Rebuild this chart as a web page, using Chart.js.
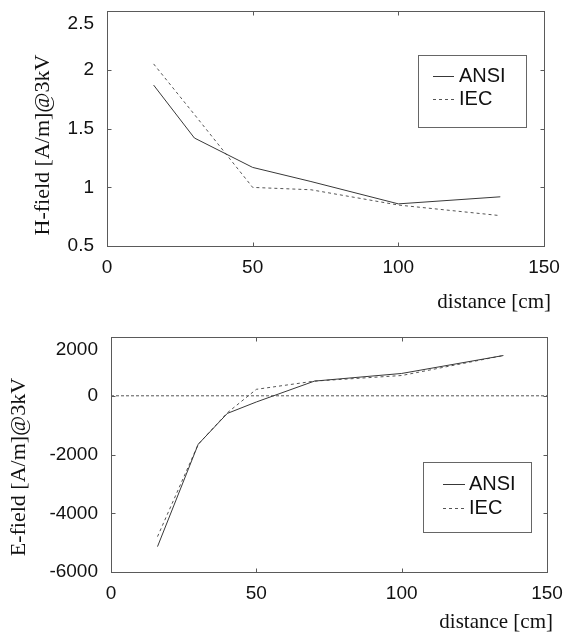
<!DOCTYPE html>
<html>
<head>
<meta charset="utf-8">
<script src="https://cdn.jsdelivr.net/npm/chart.js@4.4.0/dist/chart.umd.min.js"></script>
<style>
  html, body { margin: 0; padding: 0; background: #fff; }
  #wrap_1 { position: absolute; left: 0; top: 0; width: 564px; height: 320px; }
  #wrap_2 { position: absolute; left: 0; top: 320px; width: 564px; height: 312px; }
</style>
</head>
<body>
<div id="wrap_1"><canvas id="chart_1"></canvas></div>
<div id="wrap_2"><canvas id="chart_2"></canvas></div>
<script>
//Data
const distH = [16, 30, 50, 70, 100, 135];
const ansiH = [1.87, 1.42, 1.17, 1.05, 0.86, 0.92];
const iecH = [2.05, 1.62, 1.0, 0.98, 0.85, 0.76];

const distE = [16, 30, 40, 50, 70, 100, 135];
const ansiE = [-5130, -1650, -600, -210, 500, 760, 1370];
const iecE = [-4790, -1650, -580, 220, 500, 690, 1370];

const zeroX = [0, 150];
const zeroY = [0, 0];

const seriesNames = ["ANSI", "IEC"];
const xTitle = "distance [cm]";
const yTitleH = "H-field [A/m]@3kV";
const yTitleE = "E-field [A/m]@3kV";

const SANS = '"Liberation Sans", Arial, sans-serif';
const SERIF = '"Liberation Serif", "Times New Roman", serif';

Chart.defaults.font.family = SANS;
Chart.defaults.color = "#111";

const toPoints = (xs, ys) => xs.map((x, i) => ({ x: x, y: ys[i] }));

//Frame, inward ticks, y labels, titles and boxed legend
const framePlugin = {
  id: "frame",
  afterDatasetsDraw(chart, args, opts) {
    const ctx = chart.ctx;
    const a = chart.chartArea;
    const xs = chart.scales.x;
    const ys = chart.scales.y;
    const L = Math.round(a.left) + 0.5;
    const R = Math.round(a.right) + 0.5;
    const T = Math.round(a.top) + 0.5;
    const B = Math.round(a.bottom) + 0.5;

    ctx.save();
    ctx.strokeStyle = "#5a5a5a";
    ctx.lineWidth = 1;
    ctx.setLineDash([]);
    ctx.strokeRect(L, T, R - L, B - T);

    ctx.beginPath();
    xs.ticks.forEach((t) => {
      const px = Math.round(xs.getPixelForValue(t.value)) + 0.5;
      ctx.moveTo(px, T); ctx.lineTo(px, T + 4);
      ctx.moveTo(px, B); ctx.lineTo(px, B - 4);
    });
    ys.ticks.forEach((t) => {
      const py = Math.round(ys.getPixelForValue(t.value)) + 0.5;
      ctx.moveTo(L, py); ctx.lineTo(L + 4, py);
      ctx.moveTo(R, py); ctx.lineTo(R - 4, py);
    });
    ctx.stroke();

    // y tick labels (top one kept inside like the original)
    ctx.fillStyle = "#111";
    ctx.font = "19px " + SANS;
    ctx.textAlign = "right";
    ctx.textBaseline = "middle";
    ys.ticks.forEach((t) => {
      const py = Math.max(ys.getPixelForValue(t.value), a.top + 13);
      ctx.fillText(String(t.value), a.left - 13, py);
    });

    // y title
    ctx.save();
    ctx.translate(opts.yTitleX, opts.yTitleY);
    ctx.rotate(-Math.PI / 2);
    ctx.font = "22px " + SERIF;
    ctx.textAlign = "center";
    ctx.fillText(opts.yTitle, 0, 0);
    ctx.restore();

    // x title
    ctx.font = "21px " + SERIF;
    ctx.textAlign = "right";
    ctx.fillText(xTitle, opts.xTitleRight, opts.xTitleY);

    // legend
    const lg = opts.legend;
    ctx.fillStyle = "#fff";
    ctx.fillRect(lg.x, lg.y, lg.w, lg.h);
    ctx.strokeStyle = "#666";
    ctx.strokeRect(lg.x + 0.5, lg.y + 0.5, lg.w, lg.h);
    ctx.font = "20px " + SANS;
    ctx.textAlign = "left";
    chart.data.datasets.forEach((ds) => {
      const row = seriesNames.indexOf(ds.label);
      if (row < 0) return;
      const y = lg.y + lg.rows[row];
      ctx.strokeStyle = ds.borderColor;
      ctx.lineWidth = 1;
      ctx.setLineDash(ds.borderDash || []);
      ctx.beginPath();
      ctx.moveTo(lg.x + lg.line[0], Math.round(y) + 0.5);
      ctx.lineTo(lg.x + lg.line[1], Math.round(y) + 0.5);
      ctx.stroke();
      ctx.setLineDash([]);
      ctx.fillStyle = "#111";
      ctx.fillText(ds.label, lg.x + lg.text, y);
    });
    ctx.restore();
  },
};

const makeConfig = (datasets, yMin, yMax, yStep, pad, frame) => ({
  type: "line",
  data: { datasets: datasets },
  options: {
    animation: false,
    responsive: true,
    maintainAspectRatio: false,
    devicePixelRatio: 1,
    layout: { padding: pad },
    elements: {
      point: { radius: 0 },
      line: { tension: 0, borderWidth: 1 },
    },
    scales: {
      x: {
        type: "linear",
        min: 0,
        max: 150,
        grid: { display: false, drawTicks: false },
        border: { display: false },
        ticks: { stepSize: 50, autoSkip: false, padding: 10, font: { size: 19 }, color: "#111" },
        afterFit: (scale) => {
          scale.paddingLeft = 0;
          scale.paddingRight = 0;
        },
      },
      y: {
        type: "linear",
        min: yMin,
        max: yMax,
        grid: { display: false, drawTicks: false },
        border: { display: false },
        ticks: { stepSize: yStep, display: false },
      },
    },
    plugins: {
      legend: { display: false },
      tooltip: { enabled: false },
      frame: frame,
    },
  },
  plugins: [framePlugin],
});

const config_1 = makeConfig(
  [
    { label: "ANSI", data: toPoints(distH, ansiH), borderColor: "#383838" },
    { label: "IEC", data: toPoints(distH, iecH), borderColor: "#555", borderDash: [3, 3] },
  ],
  0.5, 2.5, 0.5,
  { left: 107, right: 20, top: 11, bottom: 31 },
  {
    yTitle: yTitleH, yTitleX: 43, yTitleY: 145,
    xTitleRight: 551, xTitleY: 302,
    legend: { x: 418, y: 55, w: 108, h: 72, rows: [21, 44], line: [15, 36], text: 41 },
  }
);

const config_2 = makeConfig(
  [
    { label: "ANSI", data: toPoints(distE, ansiE), borderColor: "#383838" },
    { label: "IEC", data: toPoints(distE, iecE), borderColor: "#555", borderDash: [3, 3] },
    { label: "zero", data: toPoints(zeroX, zeroY), borderColor: "#555", borderDash: [3, 2] },
  ],
  -6000, 2000, 2000,
  { left: 111, right: 17, top: 17, bottom: 17 },
  {
    yTitle: yTitleE, yTitleX: 19, yTitleY: 147,
    xTitleRight: 553, xTitleY: 302,
    legend: { x: 423, y: 142, w: 108, h: 70, rows: [22, 46], line: [20, 42], text: 46 },
  }
);

var myChart_1 = new Chart(document.getElementById("chart_1"), config_1);
var myChart_2 = new Chart(document.getElementById("chart_2"), config_2);
</script>
</body>
</html>
